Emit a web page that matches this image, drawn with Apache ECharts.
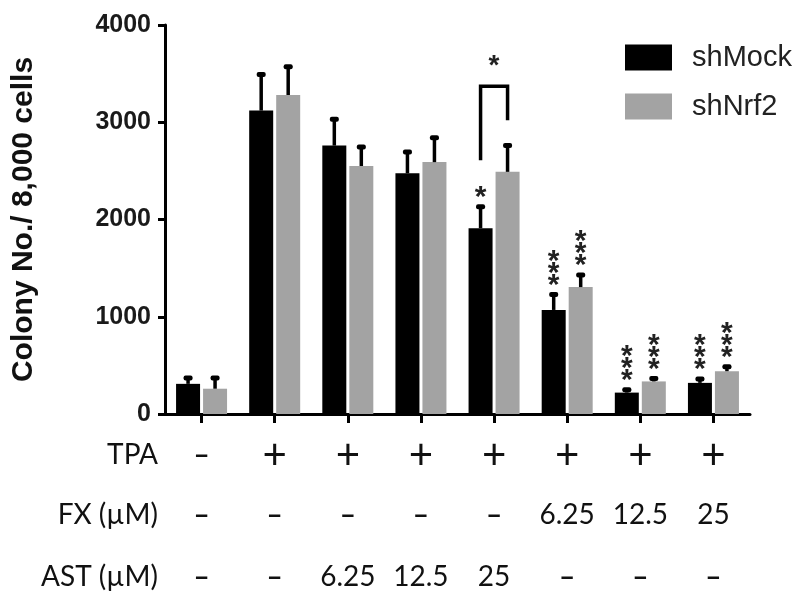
<!DOCTYPE html>
<html>
<head>
<meta charset="utf-8">
<script src="https://cdn.jsdelivr.net/npm/echarts@6/dist/echarts.min.js"></script>
<style>html,body{margin:0;padding:0;background:#fff;}#c{width:800px;height:600px;}</style>
</head>
<body>
<div id="c"></div>
<script>
// ---- data ----
const categories = ['1', '2', '3', '4', '5', '6', '7', '8'];
const mockMean = [310, 3120, 2760, 2475, 1910, 1070, 220, 320];
const mockErr  = [60, 370, 270, 220, 220, 160, 30, 40];
const nrf2Mean = [260, 3280, 2550, 2590, 2490, 1305, 335, 440];
const nrf2Err  = [110, 290, 195, 250, 270, 125, 30, 45];
const mockSig  = ['', '', '', '', '*', '***', '***', '***'];
const nrf2Sig  = ['', '', '', '', '', '***', '***', '***'];
const bracket  = [4, 2610, 3370, 3020];   // group index, left end, top, right end
const bracketStar = [4, 3640, '*'];
const tpaRow = ['–', '+', '+', '+', '+', '+', '+', '+'];
const fxRow  = ['–', '–', '–', '–', '–', '6.25', '12.5', '25'];
const astRow = ['–', '–', '6.25', '12.5', '25', '–', '–', '–'];
const rowNames = ['TPA', 'FX (µM)', 'AST (µM)'];
const yTicks = { min: 0, max: 4000, interval: 1000 };

const OFF = 13.5; // half distance between paired bar centres (px)
const tableFont = 'Lato';

function errSeries(means, errs, off) {
  return {
    type: 'custom', z: 5, silent: true,
    data: means.map((m, i) => [i, m, m + errs[i]]),
    renderItem(params, api) {
      const c = api.coord([api.value(0), api.value(1)]);
      const t = api.coord([api.value(0), api.value(2)]);
      const x = c[0] + off;
      return { type: 'group', children: [
        { type: 'line', shape: { x1: x, y1: c[1], x2: x, y2: t[1] }, style: { stroke: '#000', lineWidth: 3.5 } },
        { type: 'rect', shape: { x: x - 4.5, y: t[1] - 2.5, width: 9, height: 5, r: 2 }, style: { fill: '#000' } }
      ]};
    }
  };
}

function sigSeries(means, errs, sigs, off) {
  return {
    type: 'custom', z: 6, silent: true,
    data: means.map((m, i) => [i, m + errs[i], sigs[i]]),
    renderItem(params, api) {
      const i = params.dataIndex;
      const s = sigs[i];
      if (!s) return null;
      const t = api.coord([api.value(0), api.value(1)]);
      const x = t[0] + off;
      const children = [];
      for (let k = 0; k < s.length; k++) {
        children.push({ type: 'text', style: {
          text: '*', x: x, y: t[1] - 15 - k * 12 + 6,
          align: 'center', verticalAlign: 'middle',
          fontSize: 30, fontWeight: 'bold', fontFamily: 'Liberation Sans', fill: '#222'
        }});
      }
      return { type: 'group', children };
    }
  };
}

const chart = echarts.init(document.getElementById('c'), null, { renderer: 'canvas' });

function tableAxis(row, name, offset) {
  return {
    type: 'category', data: row, gridIndex: 0, position: 'bottom', offset: offset,
    boundaryGap: true,
    axisLine: { show: false }, axisTick: { show: false }, splitLine: { show: false },
    name: name, nameLocation: 'start', nameGap: 7,
    nameTextStyle: { fontFamily: tableFont, fontSize: 28, color: '#111', verticalAlign: 'middle', align: 'right' },
    axisLabel: {
      interval: 0, margin: 0, verticalAlign: 'middle',
      fontFamily: tableFont, fontSize: 28, color: '#111',
      formatter: v => v === '+' ? '{p|+}' : (v === '–' ? '{d|–}' : v),
      rich: {
        p: { fontFamily: tableFont, fontSize: 42, color: '#111' },
        d: { fontFamily: tableFont, fontWeight: 'bold', fontSize: 28, color: '#111' }
      }
    }
  };
}

const option = {
  animation: false,
  backgroundColor: '#fff',
  grid: { left: 165, right: 50, top: 25, bottom: 186 },
  legend: {
    data: ['shMock', 'shNrf2'], orient: 'vertical', left: 620, top: 38,
    itemWidth: 47, itemHeight: 26, itemGap: 20, icon: 'rect',
    textStyle: { fontFamily: 'Liberation Sans', fontSize: 29, color: '#222', padding: [0, 0, 0, 15] }
  },
  xAxis: [
    {
      type: 'category', data: categories, boundaryGap: true,
      axisLine: { show: true, lineStyle: { color: '#000', width: 3 } },
      axisTick: { show: true, alignWithLabel: true, length: 9, lineStyle: { color: '#000', width: 3 } },
      axisLabel: { show: false }, splitLine: { show: false }
    },
    tableAxis(tpaRow, rowNames[0], 41),
    tableAxis(fxRow, rowNames[1], 101),
    tableAxis(astRow, rowNames[2], 163)
  ],
  yAxis: {
    type: 'value', min: yTicks.min, max: yTicks.max, interval: yTicks.interval,
    name: 'Colony No./ 8,000 cells', nameLocation: 'middle', nameGap: 126,
    nameTextStyle: { fontFamily: 'Liberation Sans', fontWeight: 'bold', fontSize: 30, color: '#111' },
    axisLine: { show: true, lineStyle: { color: '#000', width: 3 } },
    axisTick: { show: true, length: 7, lineStyle: { color: '#000', width: 3 } },
    splitLine: { show: false },
    axisLabel: { fontFamily: 'Liberation Sans', fontWeight: 'bold', fontSize: 25, color: '#1a1a1a', margin: 14,
      formatter: v => String(v) }
  },
  series: [
    { name: 'shMock', type: 'bar', data: mockMean, barWidth: 24, barGap: '12.5%', itemStyle: { color: '#000' } },
    { name: 'shNrf2', type: 'bar', data: nrf2Mean, barWidth: 24, barGap: '12.5%', itemStyle: { color: '#a3a3a3' } },
    errSeries(mockMean, mockErr, -OFF),
    errSeries(nrf2Mean, nrf2Err, OFF),
    sigSeries(mockMean, mockErr, mockSig, -OFF),
    sigSeries(nrf2Mean, nrf2Err, nrf2Sig, OFF),
    {
      type: 'custom', z: 6, silent: true,
      data: [bracket],
      renderItem(params, api) {
        const l = api.coord([api.value(0), api.value(1)]);
        const t = api.coord([api.value(0), api.value(2)]);
        const r = api.coord([api.value(0), api.value(3)]);
        const xl = l[0] - OFF, xr = l[0] + OFF;
        return { type: 'polyline', shape: { points: [[xl, l[1]], [xl, t[1]], [xr, t[1]], [xr, r[1]]] },
          style: { stroke: '#000', lineWidth: 3.5, fill: null } };
      }
    },
    {
      type: 'custom', z: 6, silent: true,
      data: [bracketStar],
      renderItem(params, api) {
        const p = api.coord([api.value(0), api.value(1)]);
        return { type: 'text', style: { text: bracketStar[2], x: p[0], y: p[1] + 6, align: 'center', verticalAlign: 'middle',
          fontSize: 28, fontWeight: 'bold', fontFamily: 'Liberation Sans', fill: '#222' } };
      }
    }
  ]
};
chart.setOption(option);
</script>
</body>
</html>
